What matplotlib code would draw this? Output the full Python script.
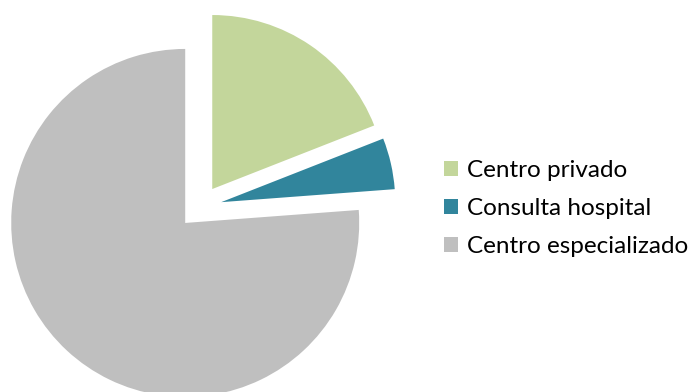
import matplotlib
matplotlib.use("Agg")
import matplotlib.pyplot as plt

# tipos de centro
labels = ["Centro privado", "Consulta hospital", "Centro especializado"]
counts = [16, 4, 64]
colors = ["#C3D69B", "#31859C", "#BFBFBF"]

W, H = 691, 392
R = 174
fig = plt.figure(figsize=(W / 100, H / 100), dpi=100)
ax = fig.add_axes([0, 0, 1, 1])

wedges, _ = ax.pie(counts, colors=colors, startangle=90, counterclock=False,
                   radius=R, center=(200, H - 207), explode=[0.125 * R] * 3,
                   wedgeprops=dict(linewidth=0))
ax.set_xlim(0, W)
ax.set_ylim(0, H)
ax.set_aspect("auto")
ax.axis("off")

fs = 17.5
sq = 14 / (fs * 100 / 72)
ax.legend(wedges, labels, loc="center left", bbox_to_anchor=(444 / W, 1 - 208.5 / H),
          frameon=False, prop=dict(family="Lato", size=fs),
          handlelength=sq, handleheight=sq, handletextpad=0.35,
          labelspacing=0.7, borderpad=0, borderaxespad=0)

fig.savefig("out.png", dpi=100)
